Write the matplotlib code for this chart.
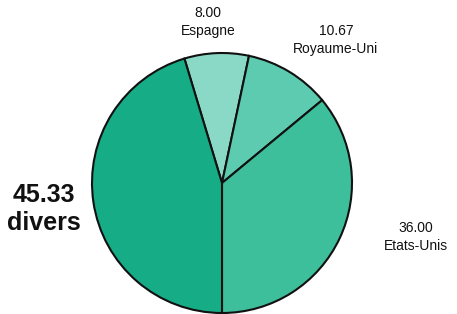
import numpy as np
import matplotlib
matplotlib.use("Agg")
import matplotlib.pyplot as plt

plt.rcParams['font.family'] = ['Liberation Sans', 'DejaVu Sans']

labels = ['Espagne', 'Royaume-Uni', 'Etats-Unis', 'divers']
values = [8.00, 10.67, 36.00, 45.33]
colors = ['#8ad9c6', '#5ccbb0', '#3ebf9c', '#16ac86']

W, H = 457, 314
fig = plt.figure(figsize=(W / 100, H / 100), dpi=100)
ax = fig.add_axes([0, 0, 1, 1])

# clockwise; the first three slices end straight down
start = -90 + 360 * sum(values[:3]) / sum(values)

ax.pie(values, colors=colors, startangle=start, counterclock=False,
       center=(222, H - 183), radius=130, frame=True,
       wedgeprops=dict(edgecolor='#111111', linewidth=1.5))
ax.set_xlim(0, W)
ax.set_ylim(0, H)
ax.set_aspect('equal')
ax.axis('off')

# label anchor points (pixel, from top-left)
label_pos = [(208, 22), (336, 40), (416, 237), (44, 209)]
for lab, v, (x, y) in zip(labels, values, label_pos):
    big = lab == 'divers'
    ax.text(x, H - y, f"{v:.2f}\n{lab}", ha='center', va='center',
            fontsize=18 if big else 10, fontweight='bold' if big else 'normal',
            linespacing=1.2 if big else 1.4, color='#111111')

fig.savefig('out.png', dpi=100)
